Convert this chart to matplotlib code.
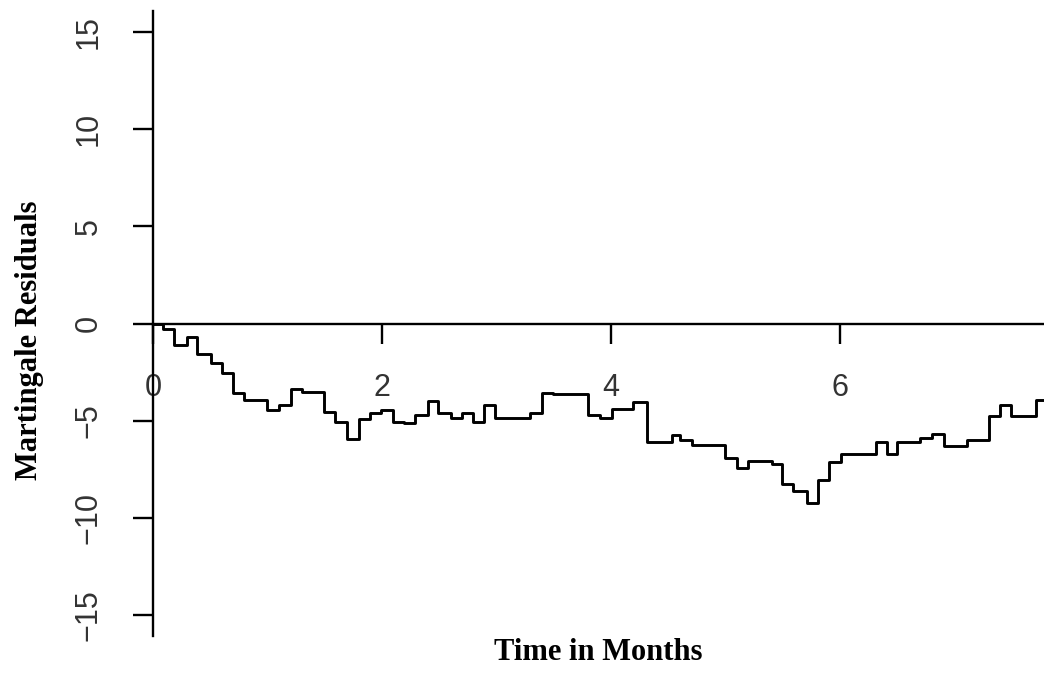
import matplotlib
matplotlib.use("Agg")
import matplotlib.pyplot as plt

# Step function: change times (months) and residual values
times = [0.0, 0.087, 0.183, 0.297, 0.384, 0.507, 0.603, 0.699, 0.795, 0.996,
         1.100, 1.205, 1.301, 1.493, 1.590, 1.694, 1.799, 1.895, 1.991, 2.096,
         2.192, 2.288, 2.402, 2.489, 2.603, 2.699, 2.795, 2.891, 2.987, 3.293,
         3.397, 3.493, 3.799, 3.904, 4.009, 4.192, 4.314, 4.533, 4.603, 4.707,
         4.996, 5.100, 5.197, 5.406, 5.493, 5.590, 5.712, 5.808, 5.904, 6.009,
         6.314, 6.410, 6.498, 6.699, 6.803, 6.908, 7.109, 7.301, 7.397, 7.493,
         7.712, 7.80]
residuals = [0.0, -0.26, -1.13, -0.67, -1.55, -2.01, -2.53, -3.56, -3.92, -4.48,
             -4.18, -3.35, -3.51, -4.54, -5.05, -5.93, -4.90, -4.59, -4.48, -5.05,
             -5.15, -4.69, -3.97, -4.59, -4.85, -4.59, -5.05, -4.18, -4.85, -4.59,
             -3.56, -3.61, -4.69, -4.85, -4.38, -4.07, -6.08, -5.72, -5.98, -6.25,
             -6.95, -7.42, -7.06, -7.22, -8.25, -8.61, -9.23, -8.04, -7.11, -6.70,
             -6.13, -6.70, -6.08, -5.88, -5.67, -6.29, -5.98, -4.74, -4.18, -4.74,
             -3.92, -3.92]

xticks = [0, 2, 4, 6]
yticks = [-15, -10, -5, 0, 5, 10, 15]

W, H = 1044, 691
fig = plt.figure(figsize=(W / 100, H / 100), dpi=100)
ax = fig.add_axes([153 / W, 55 / H, 891 / W, 625 / H])

ax.step(times, residuals, where="post", color="black", lw=2.1)

ax.set_xlim(0, 7.78)
ax.set_ylim(-16.1, 16.1)

ax.spines["left"].set_position(("data", 0))
ax.spines["bottom"].set_position(("data", 0))
ax.spines["right"].set_visible(False)
ax.spines["top"].set_visible(False)
for s in ("left", "bottom"):
    ax.spines[s].set_linewidth(1.7)
    ax.spines[s].set_color("black")

ax.set_xticks(xticks)
ax.set_yticks(yticks)
ax.set_xticklabels([str(v) for v in xticks])
ax.set_yticklabels([str(v).replace("-", "\u2212") for v in yticks])
ax.tick_params(direction="out", length=14.4, width=1.7, color="black",
               labelsize=22, labelcolor="#333333", pad=21)
for lab in ax.get_xticklabels() + ax.get_yticklabels():
    lab.set_fontfamily("Liberation Sans")
for lab in ax.get_yticklabels():
    lab.set_rotation(90)
    lab.set_va("center")

fig.text(30 / W, 1 - 340 / H, "Martingale Residuals", rotation=90,
         ha="center", va="center", fontsize=22, fontweight="bold",
         family="Liberation Serif")
fig.text(598 / W, 1 - 653 / H, "Time in Months", ha="center", va="center",
         fontsize=22, fontweight="bold", family="Liberation Serif")

fig.savefig("out.png", dpi=100)
